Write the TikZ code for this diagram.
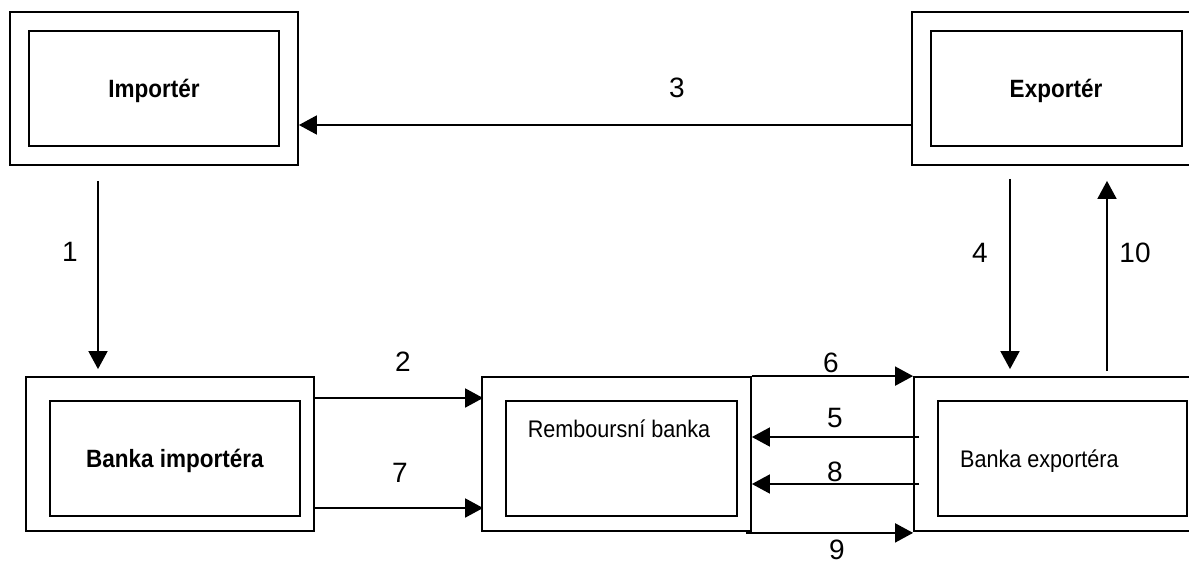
\documentclass[tikz,border=0pt]{standalone}
\usepackage{fontspec}
\setmainfont{Liberation Sans}
\newfontfamily\boxfont[FakeStretch=0.9]{Liberation Sans}
\usetikzlibrary{arrows.meta,calc}
\begin{document}
\begin{tikzpicture}[x=1pt,y=-1pt,
  outerbox/.style={draw, line width=1.8pt, inner sep=0pt},
  innerbox/.style={draw, line width=1.8pt, inner sep=0pt},
  boxlabel/.style={inner sep=0pt, font=\fontsize{24}{28}\selectfont\boxfont},
  boldlabel/.style={inner sep=0pt, font=\fontsize{25}{29}\selectfont\boxfont\bfseries},
  numlabel/.style={inner sep=0pt, font=\fontsize{28}{32}\selectfont},
  arr/.style={line width=1.8pt, -{Triangle[length=18pt,width=19pt]}}]
\useasboundingbox (0,0) rectangle (1189,562);

% parties
\node[outerbox, minimum width=288pt, minimum height=153pt] (imp) at (154,88.5) {};
\node[innerbox, minimum width=250pt, minimum height=115pt] (impi) at (154,88.5) {};
\node[boldlabel, anchor=base] (impt) at (154,97) {Importér};

\node[outerbox, minimum width=282pt, minimum height=153pt] (exp) at (1053,88.5) {};
\node[innerbox, minimum width=251pt, minimum height=115pt] (expi) at (1056.5,88.5) {};
\node[boldlabel, anchor=base] (expt) at (1056,97) {Exportér};

% banks
\node[outerbox, minimum width=288pt, minimum height=154pt] (bimp) at (170,454) {};
\node[innerbox, minimum width=250pt, minimum height=115pt] (bimpi) at (175,458.5) {};
\node[boldlabel, anchor=base] (bimpt) at (175,467) {Banka importéra};

\node[outerbox, minimum width=269pt, minimum height=154pt] (remb) at (616.5,454) {};
\node[innerbox, minimum width=231pt, minimum height=115pt] (rembi) at (621.5,458.5) {};
\node[boxlabel, anchor=base] (rembt) at (619,437) {Remboursní banka};

\node[outerbox, minimum width=280pt, minimum height=154pt] (bexp) at (1054,454) {};
\node[innerbox, minimum width=249pt, minimum height=115pt] (bexpi) at (1062.5,458.5) {};
\node[boxlabel, anchor=base west] (bexpt) at (960,467) {Banka exportéra};

% flows
\draw[arr] ($(exp.west)+(0,36.5)$) -- ($(imp.east)+(0,36.5)$);
\draw[arr] ($(imp.south)+(-56,15)$) -- ($(bimp.north)+(-72,-7)$);
\draw[arr] ($(exp.south)+(-43,13)$) -- ($(bexp.north)+(-44,-7)$);
\draw[arr] ($(bexp.north)+(53,-5)$) -- ($(exp.south)+(54,15)$);
\draw[arr] ($(bimp.east)+(0,-56)$) -- ($(remb.west)+(2,-56)$);
\draw[arr] ($(bimp.east)+(0,54)$) -- ($(remb.west)+(2,54)$);
\draw[arr] (remb.north east) -- (bexp.north west);
\draw[arr] ($(remb.south east)+(-6,1)$) -- ($(bexp.south west)+(0,1)$);
\draw[arr] ($(bexp.west)+(6,-17)$) -- ($(remb.east)+(0,-17)$);
\draw[arr] ($(bexp.west)+(6,30)$) -- ($(remb.east)+(0,30)$);

% step numbers
\node[numlabel] (n1) at (70,252) {1};
\node[numlabel] (n2) at (403,362) {2};
\node[numlabel] (n3) at (677,88) {3};
\node[numlabel] (n4) at (980,253) {4};
\node[numlabel] (n5) at (835,418) {5};
\node[numlabel] (n6) at (831,363) {6};
\node[numlabel] (n7) at (400,473) {7};
\node[numlabel] (n8) at (835,472) {8};
\node[numlabel] (n9) at (837,550) {9};
\node[numlabel] (n10) at (1135,253) {10};
\end{tikzpicture}
\end{document}
